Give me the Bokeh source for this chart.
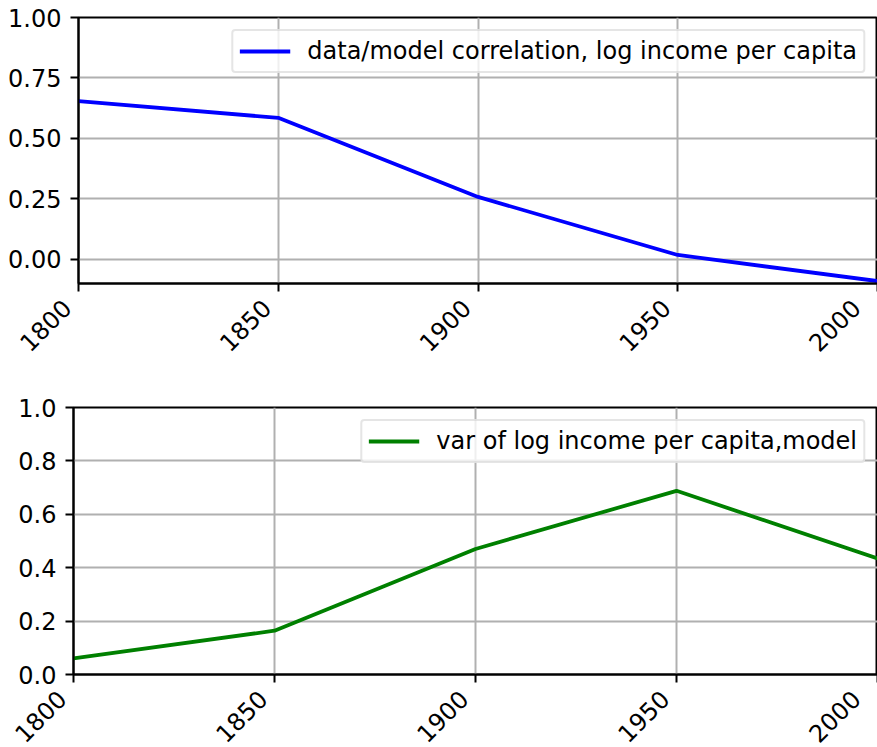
import math
from bokeh.plotting import figure
from bokeh.layouts import column
from bokeh.models import (Range1d, FixedTicker, PrintfTickFormatter, Legend,
                          LegendItem)
from bokeh.embed import file_html
from bokeh.resources import INLINE

# ---- data ----
years = [1800, 1850, 1900, 1950, 2000]
corr_values = [0.654, 0.585, 0.258, 0.018, -0.090]
var_values = [0.060, 0.164, 0.470, 0.688, 0.435]
x_ticks = [1800, 1850, 1900, 1950, 2000]
x_tick_labels = ["1800", "1850", "1900", "1950", "2000"]
top_y_ticks = [0.0, 0.25, 0.5, 0.75, 1.0]
bottom_y_ticks = [0.0, 0.2, 0.4, 0.6, 0.8, 1.0]
corr_label = "data/model correlation, log income per capita"
var_label = "var of log income per capita,model"

FONT = "DejaVu Sans"
FS = "24px"
# two no-break spaces after each rotated year label: the label then ends just
# left of / below its tick, like matplotlib's rotation=45, ha="right"
PAD = "\u00a0\u00a0"


def make_fig(frame_w, frame_h, y_range, yticks, yfmt, b_left, b_top):
    p = figure(frame_width=frame_w, frame_height=frame_h,
               x_range=Range1d(1800, 2000), y_range=y_range,
               output_backend="svg", toolbar_location=None,
               min_border_left=b_left, min_border_right=0,
               min_border_top=b_top, min_border_bottom=0)
    p.background_fill_color = "white"
    p.border_fill_color = "white"
    p.outline_line_color = "black"
    p.outline_line_width = 2
    p.outline_line_alpha = 1.0
    xt = FixedTicker(ticks=x_ticks)
    yt = FixedTicker(ticks=yticks)
    p.xaxis.ticker = xt
    p.yaxis.ticker = yt
    p.xgrid.ticker = xt
    p.ygrid.ticker = yt
    p.yaxis.formatter = PrintfTickFormatter(format=yfmt)
    for ax in (p.xaxis[0], p.yaxis[0]):
        ax.axis_line_color = "black"
        ax.axis_line_width = 2
        ax.major_tick_line_color = "black"
        ax.major_tick_line_width = 2
        ax.major_tick_out = 8
        ax.major_tick_in = 0
        ax.minor_tick_line_color = None
        ax.major_label_text_font = FONT
        ax.major_label_text_font_size = FS
        ax.major_label_text_color = "black"
    p.yaxis.major_label_standoff = 9
    p.xaxis.major_label_overrides = {t: lab + PAD for t, lab in zip(x_ticks, x_tick_labels)}
    p.xaxis.major_label_orientation = math.pi / 4
    p.xaxis.major_label_standoff = 2
    for g in (p.xgrid[0], p.ygrid[0]):
        g.grid_line_color = "#b0b0b0"
        g.grid_line_width = 2
    return p


def add_legend(p, renderer, label):
    leg = Legend(items=[LegendItem(label=label, renderers=[renderer])],
                 location="top_right", margin=12, padding=6,
                 glyph_width=51, label_standoff=17,
                 label_text_font=FONT, label_text_font_size=FS,
                 label_text_color="black",
                 border_line_color="#cccccc", border_line_width=2,
                 background_fill_color="white", background_fill_alpha=0.8)
    if "border_radius" in Legend.properties():
        leg.border_radius = 4
    p.add_layout(leg, "center")


# top panel: frame 78..877 x 17..283 ; bottom panel: frame 73..877 x 406..673
p1 = make_fig(799, 266, Range1d(-0.1, 1.0), top_y_ticks, "%.2f", 78, 17)
r1 = p1.line(years, corr_values, line_color="#0000ff", line_width=3.8)
add_legend(p1, r1, corr_label)

p2 = make_fig(804, 267, Range1d(0.0, 1.0), bottom_y_ticks, "%.1f", 73, 11)
r2 = p2.line(years, var_values, line_color="#008000", line_width=3.8)
add_legend(p2, r2, var_label)

layout = column(column(p1), column(p2), spacing=26)
open("out.html", "w").write(file_html(layout, INLINE))
